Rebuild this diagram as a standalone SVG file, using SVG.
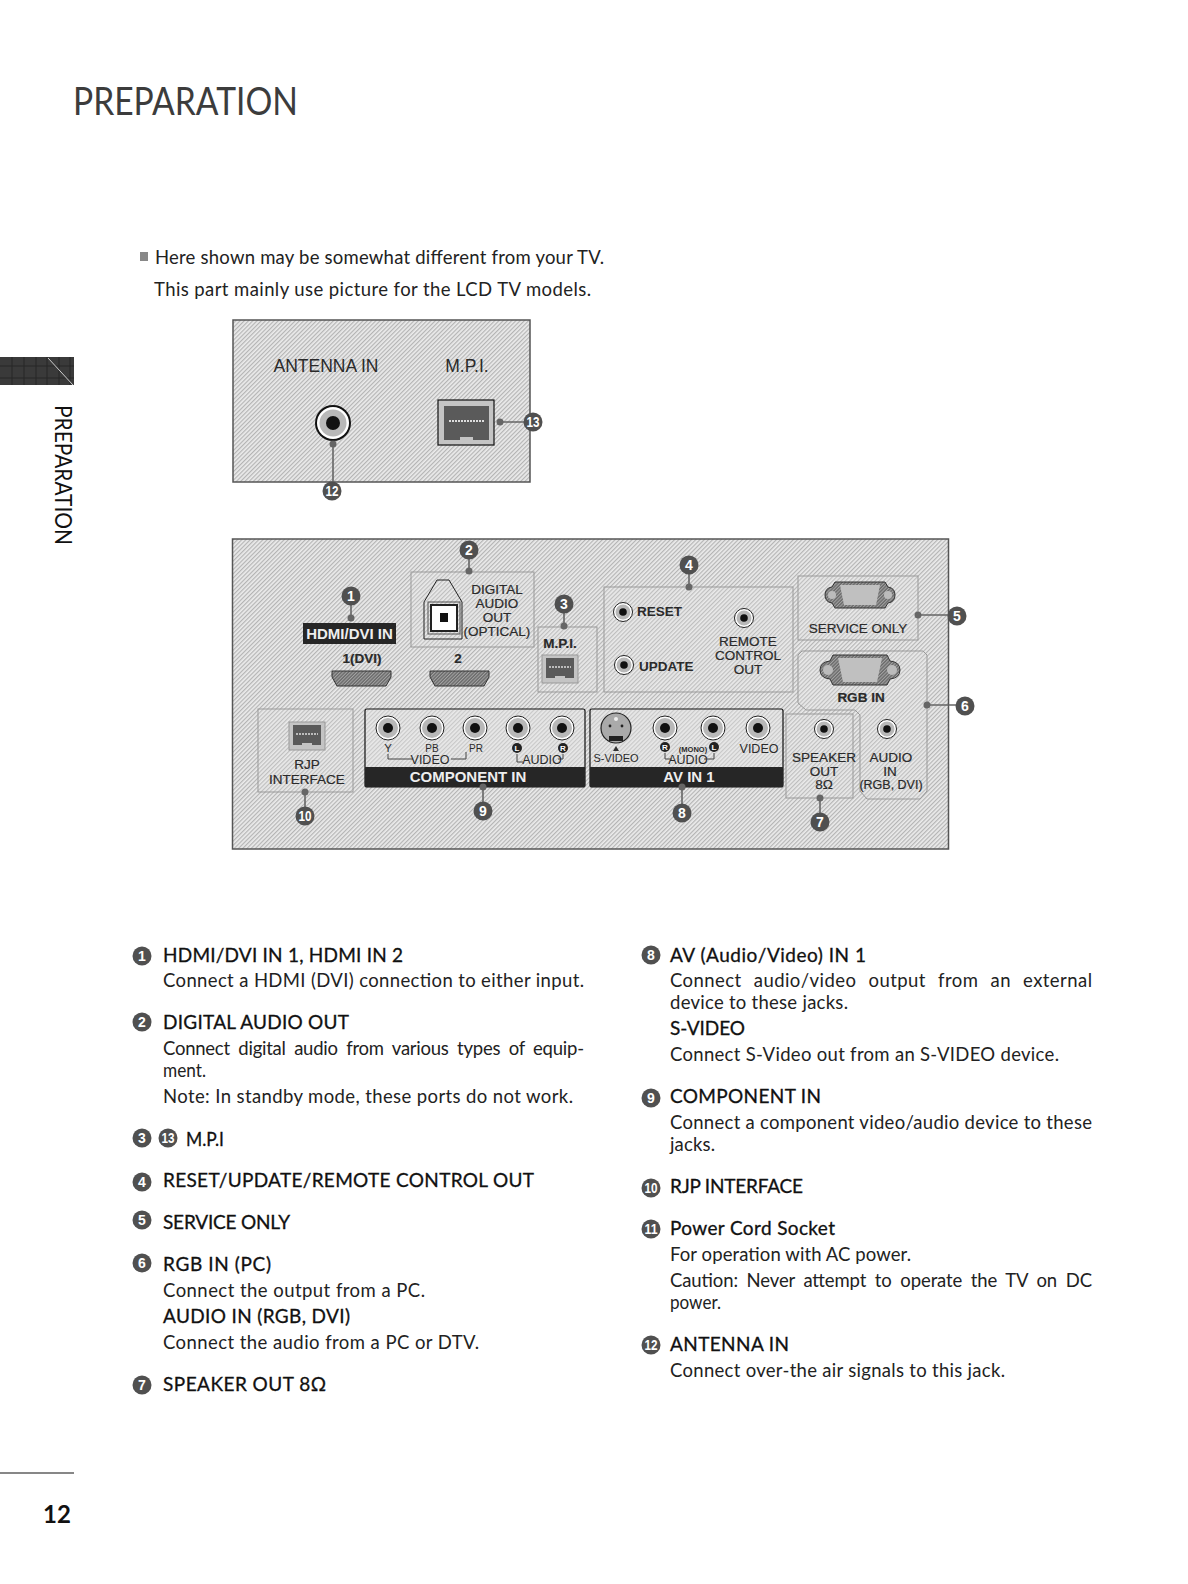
<svg xmlns="http://www.w3.org/2000/svg" width="1188" height="1584" viewBox="0 0 1188 1584">
<style>
text{font-family:"Liberation Sans",Arial,sans-serif;fill:#2a2a2a}
.h,.b,.t{font-family:Lato,"Noto Sans",sans-serif;fill:#111}
.h{font-size:19px;stroke:#111;stroke-width:.3px}
.b{font-size:18.5px;fill:#222}
.l{font-size:13.5px;text-anchor:middle;stroke:#2a2a2a;stroke-width:.2px}
.s{font-size:11.5px;text-anchor:middle}
.w{font-size:15px;font-weight:700;text-anchor:middle;fill:#eee}
.bn{font-size:14px;font-weight:700;text-anchor:middle;fill:#fff}
.bg{fill:#505050}
.pn{fill:url(#hatch);stroke:#555;stroke-width:1.5}
.bx{fill:#e4e4e4;fill-opacity:.2;stroke:#999;stroke-width:1}
.ln{stroke:#666;stroke-width:1.6;fill:none}
.d{fill:#666}
.br{stroke:#444;stroke-width:1;fill:none}
.band{fill:#262626}
.jb{fill:#e6e6e6;fill-opacity:.4;stroke:#111;stroke-width:1.2}
.mini{font-size:8px;font-weight:700;text-anchor:middle;fill:#fff}
</style>
<defs>
<pattern id="hatch" width="3" height="3" patternUnits="userSpaceOnUse" patternTransform="rotate(45)">
<rect width="3" height="3" fill="#ebebeb"/><rect width="1.2" height="3" fill="#b4b4b4"/>
</pattern>
<pattern id="dark" width="2.4" height="2.4" patternUnits="userSpaceOnUse" patternTransform="rotate(45)">
<rect width="2.4" height="2.4" fill="#6a6a6a"/><rect width="1" height="2.4" fill="#a4a4a4"/>
</pattern>
<g id="jack"><circle r="12" fill="#fff" stroke="#222" stroke-width="1"/><circle r="10" fill="#b8b8b8"/><circle r="5" fill="#111"/></g>
<g id="jacks"><circle r="9.5" fill="#fff" stroke="#222" stroke-width="1"/><circle r="7.5" fill="#b8b8b8"/><circle r="3.8" fill="#111"/></g>
<g id="rj"><rect x="-18" y="-14" width="36" height="28" fill="#c4c4c4" stroke="#999"/><rect x="-14" y="-11" width="28" height="20" fill="#5a5a5a"/><path d="M-11-2H11" stroke="#ddd" stroke-width="1.5" stroke-dasharray="2 1"/><rect x="-5" y="7" width="10" height="3" fill="#c4c4c4"/></g>
</defs>

<rect width="1188" height="1584" fill="#fff"/>

<g id="title"><text class="t" x="73" y="115" font-size="39" textLength="225" lengthAdjust="spacingAndGlyphs" style="fill:#3c3c3c">PREPARATION</text></g>

<g id="side-tab">
<rect x="0" y="357" width="74" height="28" fill="#3a3a3a"/>
<path d="M12 357V385M24 357V385M36 357V385M47 357V385M59 357V385M70 357V385M0 366H74M0 378H74" stroke="#262626" stroke-width="1"/>
<path d="M48 358L73 385" stroke="#ccc" stroke-width="1"/>
<text class="t" transform="translate(55 405) rotate(90)" font-size="23.5" textLength="140" lengthAdjust="spacingAndGlyphs">PREPARATION</text>
</g>

<g id="intro">
<rect x="140" y="252" width="8" height="9" fill="#888"/>
<text class="b" x="155" y="264" textLength="449" lengthAdjust="spacing">Here shown may be somewhat different from your TV.</text>
<text class="b" x="154" y="296" textLength="437" lengthAdjust="spacing">This part mainly use picture for the LCD TV models.</text>
</g>

<g id="panel-top">
<rect class="pn" x="233" y="320" width="297" height="162"/>
<text x="326" y="372" font-size="17.5" text-anchor="middle">ANTENNA IN</text>
<text x="467" y="372" font-size="17.5" text-anchor="middle">M.P.I.</text>
<g id="antenna-jack"><circle cx="333" cy="423" r="18" fill="#111"/><circle cx="333" cy="423" r="16" fill="#fff"/><circle cx="333" cy="423" r="13.5" fill="#b8b8b8"/><circle cx="333" cy="423" r="7" fill="#111"/></g>
<g id="mpi-port"><rect x="438" y="400" width="56" height="45" fill="#c4c4c4" stroke="#111" stroke-width="1.2"/><rect x="444" y="406" width="45" height="34" fill="#5a5a5a"/><path d="M449 421H485" stroke="#ddd" stroke-width="2" stroke-dasharray="2 1"/><rect x="460" y="437" width="13" height="3" fill="#c4c4c4"/></g>
</g>

<g id="panel-rear">
<rect class="pn" x="232.5" y="539" width="716" height="310"/>

<g id="hdmi">
<rect x="303" y="623" width="93" height="21" class="band"/>
<text class="w" x="349.5" y="639">HDMI/DVI IN</text>
<text class="l" x="362" y="663" font-weight="700">1(DVI)</text>
<text class="l" x="458" y="663" font-weight="700">2</text>
<path d="M332 671H391V677L386 686H337L332 677Z" fill="url(#dark)" stroke="#333"/>
<path d="M430 671H489V677L484 686H435L430 677Z" fill="url(#dark)" stroke="#333"/>
</g>

<g id="digital-audio">
<rect class="bx" x="411" y="572" width="123" height="75"/>
<path d="M424 639V602L437 580H449L462 602V639Z" fill="none" stroke="#222"/>
<rect x="431" y="605" width="26" height="26" fill="#fff" stroke="#222" stroke-width="2"/>
<rect x="428" y="602" width="32" height="32" fill="none" stroke="#555"/>
<rect x="440" y="613" width="8" height="9" fill="#111"/>
<text class="l" x="497" y="594">DIGITAL</text>
<text class="l" x="497" y="608">AUDIO</text>
<text class="l" x="497" y="622">OUT</text>
<text class="l" x="497" y="636">(OPTICAL)</text>
</g>

<g id="mpi">
<rect class="bx" x="538" y="627" width="59" height="65"/>
<text class="l" x="560" y="648" font-weight="700">M.P.I.</text>
<use href="#rj" x="560" y="669"/>
</g>

<g id="rjp">
<rect class="bx" x="258" y="709" width="95" height="83"/>
<use href="#rj" x="307" y="736"/>
<text class="l" x="307" y="769">RJP</text>
<text class="l" x="307" y="784">INTERFACE</text>
</g>

<g id="component">
<rect class="jb" x="365" y="709" width="220" height="78" rx="2"/>
<rect x="365" y="767" width="220" height="20" class="band"/>
<text class="w" x="468" y="782">COMPONENT IN</text>
<use href="#jack" x="388" y="728"/><use href="#jack" x="432" y="728"/><use href="#jack" x="475" y="728"/><use href="#jack" x="518" y="728"/><use href="#jack" x="562" y="728"/>
<text class="s" x="388" y="752">Y</text>
<text class="s" x="432" y="752" style="font-size:10px">PB</text>
<text class="s" x="476" y="752" style="font-size:10px">PR</text>
<circle cx="517" cy="748" r="5" fill="#222"/><text class="mini" x="517" y="751">L</text>
<circle cx="563" cy="748" r="5" fill="#222"/><text class="mini" x="563" y="751">R</text>
<path class="br" d="M388 754V759H413M451 759H466V752M517 754V762H523M558 759H563V754"/>
<text class="s" x="430" y="764" style="font-size:12.5px">VIDEO</text>
<text class="s" x="542" y="764" style="font-size:12.5px">AUDIO</text>
</g>

<g id="av-in">
<rect class="jb" x="590" y="709" width="193" height="78" rx="2"/>
<rect x="590" y="767" width="193" height="20" class="band"/>
<text class="w" x="689" y="782">AV IN 1</text>
<circle cx="616" cy="728" r="15" fill="#aaa" stroke="#222" stroke-width="1.2"/>
<path d="M609 741H623V736H609Z" fill="#222"/><circle cx="610" cy="726" r="1.4" fill="#222"/><circle cx="622" cy="726" r="1.4" fill="#222"/><circle cx="616" cy="719" r="2" fill="#eee"/>
<path d="M613 751H619L616 746Z" fill="#333"/>
<use href="#jack" x="665" y="728"/><use href="#jack" x="713" y="728"/><use href="#jack" x="758" y="728"/>
<text class="s" x="616" y="762" style="font-size:11px">S-VIDEO</text>
<circle cx="665" cy="747" r="5" fill="#222"/><text class="mini" x="665" y="750">R</text>
<circle cx="714" cy="747" r="5" fill="#222"/><text class="mini" x="714" y="750">L</text>
<text class="s" x="693" y="752" style="font-size:7.5px;font-weight:700">(MONO)</text>
<text class="s" x="759" y="753" style="font-size:12.5px">VIDEO</text>
<text class="s" x="688" y="764" style="font-size:12.5px">AUDIO</text>
<path class="br" d="M665 753V759H672M704 759H714V753"/>
</g>

<g id="reset-remote">
<rect class="bx" x="604" y="587" width="189" height="105"/>
<use href="#jacks" x="623" y="612"/><use href="#jacks" x="624" y="665"/><use href="#jacks" x="744" y="618"/>
<text x="637" y="616" font-size="13.5" font-weight="700">RESET</text>
<text x="639" y="671" font-size="13.5" font-weight="700">UPDATE</text>
<text class="l" x="748" y="646">REMOTE</text>
<text class="l" x="748" y="660">CONTROL</text>
<text class="l" x="748" y="674">OUT</text>
</g>

<g id="service">
<rect class="bx" x="798" y="576" width="120" height="64"/>
<path d="M835 582H885L888 587Q895 588 895 595Q895 602 888 603L885 608H835L832 603Q825 602 825 595Q825 588 832 587Z" fill="url(#dark)" stroke="#333"/>
<path d="M840 585H880L876 605H844Z" fill="#c0c0c0"/>
<circle cx="832" cy="595" r="4" fill="#bbb"/><circle cx="888" cy="595" r="4" fill="#bbb"/>
<text class="l" x="858" y="633">SERVICE ONLY</text>
</g>

<g id="rgb-audio">
<path class="bx" d="M802 651H923L927 655V791L920 799H867L860 791V715L855 710H806L798 703V655Z"/>
<path d="M833 655H887L890 661Q900 662 900 670Q900 678 890 679L887 685H833L830 679Q820 678 820 670Q820 662 830 661Z" fill="url(#dark)" stroke="#333"/>
<path d="M838 658H882L877 682H843Z" fill="#c0c0c0"/>
<circle cx="828" cy="670" r="5" fill="#bbb"/><circle cx="892" cy="670" r="5" fill="#bbb"/>
<text class="l" x="861" y="702" font-weight="700">RGB IN</text>
<use href="#jacks" x="887" y="729"/>
<text class="l" x="891" y="762">AUDIO</text>
<text class="l" x="890" y="776">IN</text>
<text class="l" x="891" y="789" style="font-size:12.5px">(RGB, DVI)</text>
</g>

<g id="speaker">
<rect class="bx" x="786" y="714" width="67" height="84"/>
<use href="#jacks" x="824" y="729"/>
<text class="l" x="824" y="762">SPEAKER</text>
<text class="l" x="824" y="776">OUT</text>
<text class="l" x="824" y="789">8Ω</text>
</g>
</g>

<g id="connectors">
<path class="ln" d="M333 444V485M500 422H527M351 596V618M469 550V571M564 604V626M689 565V587M918 615H957M927 705H965M820 798V822M682 787V813M483 787V811M305 792V816"/>
<circle class="d" cx="333" cy="444" r="3.5"/><circle class="d" cx="500" cy="422" r="3.5"/><circle class="d" cx="351" cy="618" r="3.5"/><circle class="d" cx="469" cy="571" r="3.5"/><circle class="d" cx="564" cy="626" r="3.5"/><circle class="d" cx="689" cy="587" r="3.5"/><circle class="d" cx="918" cy="615" r="3.5"/><circle class="d" cx="927" cy="705" r="3.5"/><circle class="d" cx="820" cy="798" r="3.5"/><circle class="d" cx="682" cy="787" r="3.5"/><circle class="d" cx="483" cy="787" r="3.5"/><circle class="d" cx="305" cy="792" r="3.5"/>
</g>

<g id="callouts">
<g id="c1"><circle class="bg" cx="351" cy="596" r="9.5"/><text class="bn" x="351" y="601">1</text></g>
<g id="c2"><circle class="bg" cx="469" cy="550" r="9.5"/><text class="bn" x="469" y="555">2</text></g>
<g id="c3"><circle class="bg" cx="564" cy="604" r="9.5"/><text class="bn" x="564" y="609">3</text></g>
<g id="c4"><circle class="bg" cx="689" cy="565" r="9.5"/><text class="bn" x="689" y="570">4</text></g>
<g id="c5"><circle class="bg" cx="957" cy="616" r="9.5"/><text class="bn" x="957" y="621">5</text></g>
<g id="c6"><circle class="bg" cx="965" cy="706" r="9.5"/><text class="bn" x="965" y="711">6</text></g>
<g id="c7"><circle class="bg" cx="820" cy="822" r="9.5"/><text class="bn" x="820" y="827">7</text></g>
<g id="c8"><circle class="bg" cx="682" cy="813" r="9.5"/><text class="bn" x="682" y="818">8</text></g>
<g id="c9"><circle class="bg" cx="483" cy="811" r="9.5"/><text class="bn" x="483" y="816">9</text></g>
<g id="c10"><circle class="bg" cx="305" cy="816" r="9.5"/><text class="bn" x="305" y="821" textLength="13" lengthAdjust="spacingAndGlyphs">10</text></g>
<g id="c12"><circle class="bg" cx="332" cy="491" r="9.5"/><text class="bn" x="332" y="496" textLength="13" lengthAdjust="spacingAndGlyphs">12</text></g>
<g id="c13"><circle class="bg" cx="533" cy="422" r="9.5"/><text class="bn" x="533" y="427" textLength="13" lengthAdjust="spacingAndGlyphs">13</text></g>
</g>

<g id="list-left">
<g id="l1"><circle class="bg" cx="142" cy="956" r="9.5"/><text class="bn" x="142" y="961">1</text><text class="h" x="163" y="962" textLength="240">HDMI/DVI IN 1, HDMI IN 2</text><text class="b" x="163" y="987" textLength="421">Connect a HDMI (DVI) connection to either input.</text></g>
<g id="l2"><circle class="bg" cx="142" cy="1022" r="9.5"/><text class="bn" x="142" y="1027">2</text><text class="h" x="163" y="1029" textLength="186">DIGITAL AUDIO OUT</text><text class="b" x="163" y="1055" textLength="421" style="word-spacing:4px">Connect digital audio from various types of equip-</text><text class="b" x="163" y="1077" textLength="43" lengthAdjust="spacingAndGlyphs">ment.</text><text class="b" x="163" y="1103" textLength="410">Note: In standby mode, these ports do not work.</text></g>
<g id="l3"><circle class="bg" cx="142" cy="1138" r="9.5"/><text class="bn" x="142" y="1143">3</text><circle class="bg" cx="168" cy="1138" r="9.5"/><text class="bn" x="168" y="1143" textLength="13" lengthAdjust="spacingAndGlyphs">13</text><text class="h" x="186" y="1146" textLength="38" lengthAdjust="spacingAndGlyphs">M.P.I</text></g>
<g id="l4"><circle class="bg" cx="142" cy="1182" r="9.5"/><text class="bn" x="142" y="1187">4</text><text class="h" x="163" y="1187" textLength="371">RESET/UPDATE/REMOTE CONTROL OUT</text></g>
<g id="l5"><circle class="bg" cx="142" cy="1220" r="9.5"/><text class="bn" x="142" y="1225">5</text><text class="h" x="163" y="1229" textLength="127">SERVICE ONLY</text></g>
<g id="l6"><circle class="bg" cx="142" cy="1263" r="9.5"/><text class="bn" x="142" y="1268">6</text><text class="h" x="163" y="1271" textLength="108">RGB IN (PC)</text><text class="b" x="163" y="1297" textLength="262">Connect the output from a PC.</text><text class="h" x="163" y="1323" textLength="187">AUDIO IN (RGB, DVI)</text><text class="b" x="163" y="1349" textLength="316">Connect the audio from a PC or DTV.</text></g>
<g id="l7"><circle class="bg" cx="142" cy="1385" r="9.5"/><text class="bn" x="142" y="1390">7</text><text class="h" x="163" y="1391" textLength="163">SPEAKER OUT 8Ω</text></g>
</g>

<g id="list-right">
<g id="l8"><circle class="bg" cx="651" cy="955" r="9.5"/><text class="bn" x="651" y="960">8</text><text class="h" x="670" y="962" textLength="196">AV (Audio/Video) IN 1</text><text class="b" x="670" y="987" textLength="422" style="word-spacing:7px">Connect audio/video output from an external</text><text class="b" x="670" y="1009" textLength="178">device to these jacks.</text><text class="h" x="670" y="1035" textLength="75">S-VIDEO</text><text class="b" x="670" y="1061" textLength="389">Connect S-Video out from an S-VIDEO device.</text></g>
<g id="l9"><circle class="bg" cx="651" cy="1098" r="9.5"/><text class="bn" x="651" y="1103">9</text><text class="h" x="670" y="1103" textLength="151">COMPONENT IN</text><text class="b" x="670" y="1129" textLength="422">Connect a component video/audio device to these</text><text class="b" x="670" y="1151" textLength="45">jacks.</text></g>
<g id="l10"><circle class="bg" cx="651" cy="1188" r="9.5"/><text class="bn" x="651" y="1193" textLength="13" lengthAdjust="spacingAndGlyphs">10</text><text class="h" x="670" y="1193" textLength="133">RJP INTERFACE</text></g>
<g id="l11"><circle class="bg" cx="651" cy="1229" r="9.5"/><text class="bn" x="651" y="1234" textLength="13" lengthAdjust="spacingAndGlyphs">11</text><text class="h" x="670" y="1235" textLength="165">Power Cord Socket</text><text class="b" x="670" y="1261" textLength="241">For operation with AC power.</text><text class="b" x="670" y="1287" textLength="422" style="word-spacing:4px">Caution: Never attempt to operate the TV on DC</text><text class="b" x="670" y="1309" textLength="51" lengthAdjust="spacingAndGlyphs">power.</text></g>
<g id="l12"><circle class="bg" cx="651" cy="1345" r="9.5"/><text class="bn" x="651" y="1350" textLength="13" lengthAdjust="spacingAndGlyphs">12</text><text class="h" x="670" y="1351" textLength="119">ANTENNA IN</text><text class="b" x="670" y="1377" textLength="335">Connect over-the air signals to this jack.</text></g>
</g>

<g id="footer">
<path d="M0 1473H74" stroke="#111" stroke-width="1.2"/>
<text class="t" x="43" y="1523" font-size="24" font-weight="700" textLength="28">12</text>
</g>
</svg>
